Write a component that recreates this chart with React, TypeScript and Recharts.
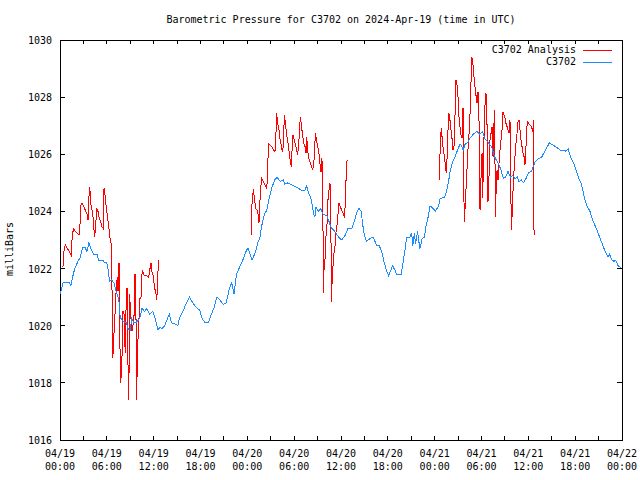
import { LineChart, Line, XAxis, YAxis, ReferenceArea, Legend } from "recharts";

// time axis: hours since 2024-04-19 00:00 UTC
const xTicks = [0, 3, 6, 9, 12, 15, 18, 21, 24, 27, 30, 33, 36, 39, 42, 45, 48, 51, 54, 57, 60, 63, 66, 69, 72];
const labelHours = [0, 6, 12, 18, 24, 30, 36, 42, 48, 54, 60, 66, 72];
const labelDates = ["04/19", "04/19", "04/19", "04/19", "04/20", "04/20", "04/20", "04/20", "04/21", "04/21", "04/21", "04/21", "04/22"];
const labelTimes = ["00:00", "06:00", "12:00", "18:00", "00:00", "06:00", "12:00", "18:00", "00:00", "06:00", "12:00", "18:00", "00:00"];
const yTicks = [1016, 1018, 1020, 1022, 1024, 1026, 1028, 1030];

const stationName = "C3702";
const analysisName = "C3702 Analysis";

const stationHours = [
  0.0, 0.4, 0.7, 1.2, 1.4, 1.7, 1.9, 2.3, 2.6, 2.9, 3.2, 3.45, 3.7, 4.0, 4.35, 4.8, 4.9, 5.5, 5.7, 6.0,
  6.15, 6.35, 6.6, 6.9, 7.2, 7.4, 7.65, 7.7, 8.1, 8.5, 8.7, 9.0, 9.2, 9.5, 9.7, 10.2, 10.5, 10.85, 11.1, 11.5,
  11.9, 12.2, 12.55, 12.8, 13.1, 13.4, 14.0, 14.3, 14.9, 15.1, 15.3, 15.9, 16.2, 16.6, 17.0, 17.6, 17.9, 18.2, 18.6, 19.0,
  19.4, 19.7, 20.1, 20.5, 20.9, 21.3, 21.7, 22.0, 22.3, 22.6, 23.1, 23.5, 23.9, 24.1, 24.6, 25.0, 25.4, 25.6, 25.8, 26.2,
  26.5, 26.8, 27.1, 27.5, 27.8, 28.2, 28.6, 28.8, 29.2, 29.9, 30.3, 30.9, 31.4, 31.6, 31.8, 32.2, 32.5, 32.65, 32.8, 33.1,
  33.4, 33.7, 34.2, 34.4, 34.7, 35.2, 35.7, 36.1, 36.5, 36.9, 37.4, 37.7, 38.0, 38.3, 38.6, 38.75, 39.0, 39.3, 39.7, 40.1,
  40.6, 40.9, 41.2, 41.55, 41.85, 42.1, 42.4, 42.6, 42.9, 43.1, 43.7, 44.0, 44.2, 44.4, 44.85, 45.05, 45.2, 45.4, 45.55, 45.8,
  46.1, 46.4, 46.7, 46.9, 47.2, 47.4, 47.8, 48.1, 48.5, 48.7, 49.3, 49.5, 49.75, 49.95, 50.25, 50.6, 51.0, 51.25, 51.45, 51.65,
  51.9, 52.2, 52.5, 52.95, 53.4, 53.8, 54.15, 54.4, 54.9, 55.3, 55.7, 56.2, 56.5, 56.8, 57.1, 57.4, 57.7, 58.0, 58.3, 58.6,
  58.8, 59.1, 59.4, 59.7, 60.0, 60.4, 60.6, 60.9, 61.3, 61.7, 62.1, 62.4, 62.7, 63.0, 63.6, 64.1, 64.6, 64.8, 65.1, 65.4,
  65.8, 66.1, 66.4, 66.8, 67.3, 67.6, 67.9, 68.3, 68.8, 69.2, 69.7, 70.2, 70.4, 70.7, 71.0, 71.2, 71.5, 72.0,
];
const stationValues = [
  1021.1, 1021.5, 1021.5, 1021.5, 1021.4, 1021.8, 1022.0, 1022.25, 1022.4, 1022.75, 1022.75, 1022.6, 1022.9, 1022.65, 1022.5, 1022.5, 1022.3, 1022.3, 1022.2, 1022.2,
  1022.0, 1021.55, 1021.6, 1021.5, 1021.2, 1021.05, 1020.7, 1020.3, 1020.15, 1020.1, 1019.9, 1019.85, 1020.25, 1020.1, 1020.1, 1020.25, 1020.6, 1020.5, 1020.6, 1020.4,
  1020.5, 1020.25, 1019.85, 1019.95, 1019.9, 1020.0, 1020.4, 1020.1, 1020.05, 1020.0, 1020.25, 1020.6, 1020.8, 1021.0, 1020.8, 1020.6, 1020.55, 1020.25, 1020.1, 1020.1,
  1020.4, 1020.6, 1021.0, 1020.9, 1020.75, 1020.8, 1021.3, 1021.5, 1021.1, 1021.8, 1022.1, 1022.35, 1022.65, 1022.7, 1022.3, 1022.55, 1022.95, 1023.05, 1023.45, 1023.9,
  1024.05, 1024.45, 1024.8, 1025.1, 1025.2, 1025.05, 1025.1, 1024.95, 1025.0, 1024.9, 1024.85, 1024.75, 1024.75, 1024.9, 1024.7, 1024.4, 1023.9, 1023.8, 1024.15, 1024.0,
  1024.1, 1023.9, 1023.85, 1023.7, 1023.45, 1023.3, 1023.1, 1023.0, 1023.15, 1023.4, 1023.4, 1023.65, 1023.95, 1024.1, 1024.0, 1023.6, 1023.15, 1022.95, 1023.05, 1023.1,
  1022.8, 1022.8, 1022.6, 1022.2, 1021.9, 1021.75, 1021.95, 1022.1, 1021.95, 1021.8, 1021.8, 1022.3, 1022.65, 1023.1, 1023.1, 1023.25, 1022.8, 1023.25, 1022.85, 1023.3,
  1022.7, 1023.05, 1023.1, 1023.5, 1023.85, 1024.2, 1024.1, 1024.0, 1024.2, 1024.45, 1024.5, 1024.7, 1025.0, 1025.35, 1025.7, 1025.9, 1026.2, 1026.35, 1026.3, 1026.15,
  1026.35, 1026.4, 1026.55, 1026.7, 1026.8, 1026.7, 1026.8, 1026.55, 1026.4, 1026.25, 1025.9, 1025.65, 1025.45, 1025.15, 1025.2, 1025.4, 1025.2, 1025.25, 1025.15, 1025.2,
  1025.05, 1025.1, 1025.0, 1025.15, 1025.35, 1025.4, 1025.55, 1025.75, 1025.85, 1025.9, 1026.1, 1026.25, 1026.4, 1026.35, 1026.25, 1026.15, 1026.15, 1026.1, 1026.2, 1025.9,
  1025.7, 1025.45, 1025.2, 1024.95, 1024.35, 1024.15, 1024.0, 1023.65, 1023.35, 1023.05, 1022.7, 1022.4, 1022.5, 1022.3, 1022.25, 1022.3, 1022.1, 1022.0,
];

// analysis runs only in three windows; the nulls break the line between them
const analysisHours = [
  0.38, 0.51, 0.68, 0.94, 1.24, 1.45, 1.54, 1.71, 1.96, 2.31, 2.52, 2.65, 2.82, 3.16, 3.5, 3.59, 3.67, 3.8, 3.93, 4.01,
  4.18, 4.27, 4.36, 4.44, 4.57, 4.7, 4.87, 5.04, 5.21, 5.38, 5.55, 5.64, 5.76, 5.89, 6.06, 6.23, 6.41, 6.49, 6.58, 6.66,
  6.75, 6.83, 6.96, 7.09, 7.22, 7.35, 7.43, 7.56, 7.64, 7.73, 7.86, 7.98, 8.07, 8.2, 8.28, 8.37, 8.5, 8.63, 8.71, 8.75,
  8.84, 8.92, 9.05, 9.22, 9.35, 9.48, 9.57, 9.65, 9.74, 9.78, 9.91, 10.03, 10.16, 10.25, 10.38, 10.46, 10.59, 10.76, 11.06, 11.36,
  11.53, 11.66, 11.74, 11.91, 12.04, 12.21, 12.3, 12.38, 12.47, 12.55, 12.68,
  18.0,
  24.47, 24.56, 24.68, 24.77, 24.9, 25.07, 25.24, 25.41, 25.49, 25.58, 25.71, 25.84, 26.05, 26.26, 26.48, 26.6, 26.69, 26.9, 27.12, 27.33,
  27.54, 27.67, 27.76, 27.89, 28.06, 28.18, 28.31, 28.48, 28.61, 28.74, 28.83, 28.95, 29.08, 29.25, 29.38, 29.51, 29.64, 29.72, 29.85, 30.02,
  30.19, 30.32, 30.45, 30.58, 30.7, 30.79, 30.92, 31.05, 31.22, 31.39, 31.52, 31.6, 31.73, 31.86, 32.03, 32.24, 32.37, 32.5, 32.63, 32.71,
  32.84, 33.01, 33.18, 33.35, 33.44, 33.52, 33.65, 33.74, 33.82, 33.95, 34.08, 34.21, 34.33, 34.46, 34.59, 34.68, 34.72, 34.76, 34.85, 34.97,
  35.1, 35.23, 35.36, 35.49, 35.61, 35.74, 35.91, 36.08, 36.3, 36.47, 36.6, 36.73, 36.85,
  42.0,
  48.6, 48.72, 48.85, 48.98, 49.11, 49.24, 49.36, 49.49, 49.58, 49.71, 49.83, 49.96, 50.09, 50.22, 50.35, 50.47, 50.6, 50.73, 50.86, 50.99,
  51.11, 51.24, 51.37, 51.5, 51.63, 51.71, 51.8, 51.93, 52.05, 52.18, 52.31, 52.44, 52.57, 52.65, 52.78, 52.91, 53.04, 53.16, 53.29, 53.42,
  53.55, 53.63, 53.72, 53.81, 53.94, 54.07, 54.15, 54.28, 54.41, 54.54, 54.66, 54.75, 54.83, 54.96, 55.09, 55.22, 55.35, 55.48, 55.6, 55.69,
  55.77, 55.86, 55.99, 56.12, 56.24, 56.37, 56.5, 56.63, 56.76, 56.88, 57.01, 57.14, 57.27, 57.4, 57.53, 57.65, 57.74, 57.82, 57.91, 58.04,
  58.17, 58.29, 58.42, 58.55, 58.68, 58.81, 58.93, 59.06, 59.19, 59.32, 59.45, 59.57, 59.66, 59.79, 59.87, 60.05, 60.22, 60.39, 60.56, 60.69,
  60.73,
];
const analysisValues = [
  1022.07, 1022.6, 1022.83, 1022.7, 1022.58, 1022.47, 1023.0, 1023.4, 1023.3, 1023.2, 1023.2, 1024.22, 1024.28, 1024.1, 1023.87, 1023.7, 1024.34, 1024.87, 1024.4, 1024.1,
  1024.0, 1023.64, 1023.35, 1023.12, 1023.5, 1024.13, 1024.0, 1023.75, 1023.64, 1023.45, 1023.4, 1024.8, 1024.6, 1024.25, 1023.85, 1023.5, 1023.06, 1023.0, 1022.82, 1021.31,
  1018.86, 1019.15, 1020.0, 1020.6, 1021.4, 1021.7, 1021.2, 1022.2, 1020.6, 1017.98, 1018.27, 1019.2, 1020.5, 1020.4, 1019.5, 1019.03, 1021.31, 1021.3, 1018.7, 1017.4,
  1018.3, 1021.1, 1020.4, 1019.8, 1020.0, 1020.3, 1021.78, 1021.78, 1020.2, 1017.4, 1018.6, 1019.9, 1020.4, 1020.95, 1021.0, 1021.78, 1021.9, 1021.78, 1021.75, 1021.7,
  1022.0, 1022.18, 1021.9, 1021.78, 1021.5, 1021.2, 1021.1, 1020.9, 1021.2, 1021.9, 1022.3,
  null,
  1023.17, 1024.11, 1024.52, 1024.77, 1024.46, 1024.11, 1024.05, 1023.87, 1023.58, 1024.17, 1024.81, 1025.16, 1025.04, 1024.93, 1024.81, 1025.22, 1026.38, 1026.33, 1026.27, 1026.17,
  1026.09, 1026.73, 1027.43, 1027.08, 1026.85, 1026.56, 1026.38, 1026.09, 1026.27, 1027.38, 1027.2, 1026.91, 1026.62, 1026.33, 1026.03, 1025.74, 1025.57, 1026.09, 1026.68, 1026.5,
  1026.33, 1026.15, 1025.98, 1026.38, 1026.87, 1027.32, 1027.03, 1026.73, 1026.38, 1026.27, 1026.03, 1026.62, 1026.15, 1025.86, 1025.74, 1025.57, 1025.45, 1025.63, 1026.15, 1026.73,
  1026.56, 1026.27, 1026.03, 1025.57, 1025.39, 1025.86, 1025.57, 1021.13, 1021.95, 1022.3, 1023.12, 1023.58, 1024.4, 1024.75, 1024.98, 1024.4, 1022.88, 1020.84, 1021.48, 1022.07,
  1022.53, 1022.77, 1023.29, 1023.52, 1023.88, 1024.28, 1024.17, 1024.05, 1023.93, 1023.76, 1024.75, 1025.74, 1025.8,
  null,
  1025.1, 1026.38, 1026.91, 1026.5, 1026.15, 1025.92, 1025.63, 1025.33, 1025.8, 1026.85, 1027.43, 1027.2, 1026.85, 1026.56, 1026.15, 1026.21, 1027.32, 1028.6, 1028.42, 1028.02,
  1027.32, 1026.97, 1026.68, 1026.56, 1027.61, 1025.22, 1023.64, 1024.28, 1024.98, 1025.68, 1026.38, 1026.85, 1027.67, 1028.48, 1029.39, 1029.12, 1028.72, 1028.37, 1028.07, 1027.78,
  1028.19, 1027.55, 1026.85, 1024.05, 1025.22, 1026.03, 1024.46, 1026.15, 1027.55, 1028.13, 1028.02, 1026.15, 1024.34, 1025.22, 1026.5, 1026.73, 1026.97, 1025.92, 1027.08, 1027.55,
  1023.82, 1024.63, 1025.45, 1025.1, 1025.68, 1026.15, 1026.5, 1026.85, 1027.49, 1027.38, 1027.26, 1027.08, 1026.97, 1026.85, 1026.73, 1027.2, 1025.22, 1023.35, 1023.82, 1024.75,
  1025.45, 1025.92, 1026.38, 1026.73, 1027.14, 1027.2, 1026.85, 1026.5, 1026.27, 1026.03, 1025.92, 1025.63, 1026.03, 1026.85, 1027.14, 1027.08, 1027.03, 1026.97, 1026.79, 1027.2,
  1023.17,
];

const FONT = "'DejaVu Sans Mono', monospace";
const STATION_COLOR = "#1a8cff";
const ANALYSIS_COLOR = "#ff0000";
const PLOT_W = 562;
const PLOT_H = 400;

const stationData = stationHours.map((h, i) => ({ h, v: stationValues[i] }));
const analysisData = analysisHours.map((h, i) => ({ h, v: analysisValues[i] }));

function XTick(props: any) {
  const { x, y, payload } = props;
  const idx = labelHours.indexOf(payload.value);
  return (
    <g>
      <line x1={x} x2={x} y1={y} y2={y - 4} stroke="#000" shapeRendering="crispEdges" />
      <line x1={x} x2={x} y1={y - PLOT_H} y2={y - PLOT_H + 4} stroke="#000" shapeRendering="crispEdges" />
      {idx >= 0 && (
        <text x={x} y={y + 17} textAnchor="middle" fontFamily={FONT} fontSize={10} fill="#000">
          <tspan x={x}>{labelDates[idx]}</tspan>
          <tspan x={x} dy={13}>{labelTimes[idx]}</tspan>
        </text>
      )}
    </g>
  );
}

function YTick(props: any) {
  const { x, y, payload } = props;
  return (
    <g>
      <line x1={x} x2={x + 5} y1={y} y2={y} stroke="#000" shapeRendering="crispEdges" />
      <line x1={x + PLOT_W} x2={x + PLOT_W - 5} y1={y} y2={y} stroke="#000" shapeRendering="crispEdges" />
      <text x={x - 8} y={y + 4} textAnchor="end" fontFamily={FONT} fontSize={10} fill="#000">
        {payload.value}
      </text>
    </g>
  );
}

function YLabel(props: any) {
  const { viewBox } = props;
  const cx = viewBox.x + 13;
  const cy = viewBox.y + viewBox.height / 2 + 9;
  return (
    <text x={cx} y={cy} transform={`rotate(-90 ${cx} ${cy})`} textAnchor="middle" fontFamily={FONT} fontSize={10} fill="#000">
      milliBars
    </text>
  );
}

function LegendBox() {
  const rows = [
    { name: analysisName, color: ANALYSIS_COLOR },
    { name: stationName, color: STATION_COLOR },
  ];
  return (
    <div style={{ fontFamily: FONT, fontSize: 10, color: "#000" }}>
      {rows.map((r) => (
        <div key={r.name} style={{ display: "flex", justifyContent: "flex-end", alignItems: "center", height: 12 }}>
          <span style={{ lineHeight: "12px" }}>{r.name}</span>
          <span style={{ display: "inline-block", width: 29, height: 1, marginLeft: 7, marginRight: 1, background: r.color }} />
        </div>
      ))}
    </div>
  );
}

export default function App() {
  return (
    <div style={{ position: "absolute", left: 0, top: 0, width: 640, height: 480, background: "#fff" }}>
      <div
        style={{
          position: "absolute",
          left: 60,
          top: 14,
          width: PLOT_W,
          textAlign: "center",
          fontFamily: FONT,
          fontSize: 10,
          lineHeight: "12px",
          color: "#000",
        }}
      >
        Barometric Pressure for C3702 on 2024-Apr-19 (time in UTC)
      </div>
      <LineChart width={640} height={480} margin={{ top: 40, right: 18, bottom: 0, left: 0 }}>
        <XAxis
          dataKey="h"
          type="number"
          domain={[0, 72]}
          ticks={xTicks}
          interval={0}
          height={40}
          tickSize={0}
          tickMargin={0}
          axisLine={false}
          tickLine={false}
          tick={XTick}
          allowDataOverflow
        />
        <YAxis
          type="number"
          domain={[1016, 1030]}
          ticks={yTicks}
          interval={0}
          width={60}
          tickSize={0}
          tickMargin={0}
          axisLine={false}
          tickLine={false}
          tick={YTick}
          label={YLabel}
          allowDataOverflow
        />
        <ReferenceArea
          x1={0}
          x2={72}
          y1={1016}
          y2={1030}
          fill="none"
          stroke="#000"
          strokeWidth={1}
          shapeRendering="crispEdges"
          ifOverflow="visible"
        />
        <Line
          data={analysisData}
          dataKey="v"
          name={analysisName}
          type="linear"
          stroke={ANALYSIS_COLOR}
          strokeWidth={1}
          shapeRendering="crispEdges"
          dot={false}
          activeDot={false}
          isAnimationActive={false}
        />
        <Line
          data={stationData}
          dataKey="v"
          name={stationName}
          type="linear"
          stroke={STATION_COLOR}
          strokeWidth={1}
          shapeRendering="crispEdges"
          dot={false}
          activeDot={false}
          isAnimationActive={false}
        />
        <Legend
          layout="horizontal"
          verticalAlign="middle"
          align="center"
          content={LegendBox}
          wrapperStyle={{ top: 44, left: 453, width: 160, height: 24 }}
        />
      </LineChart>
    </div>
  );
}
